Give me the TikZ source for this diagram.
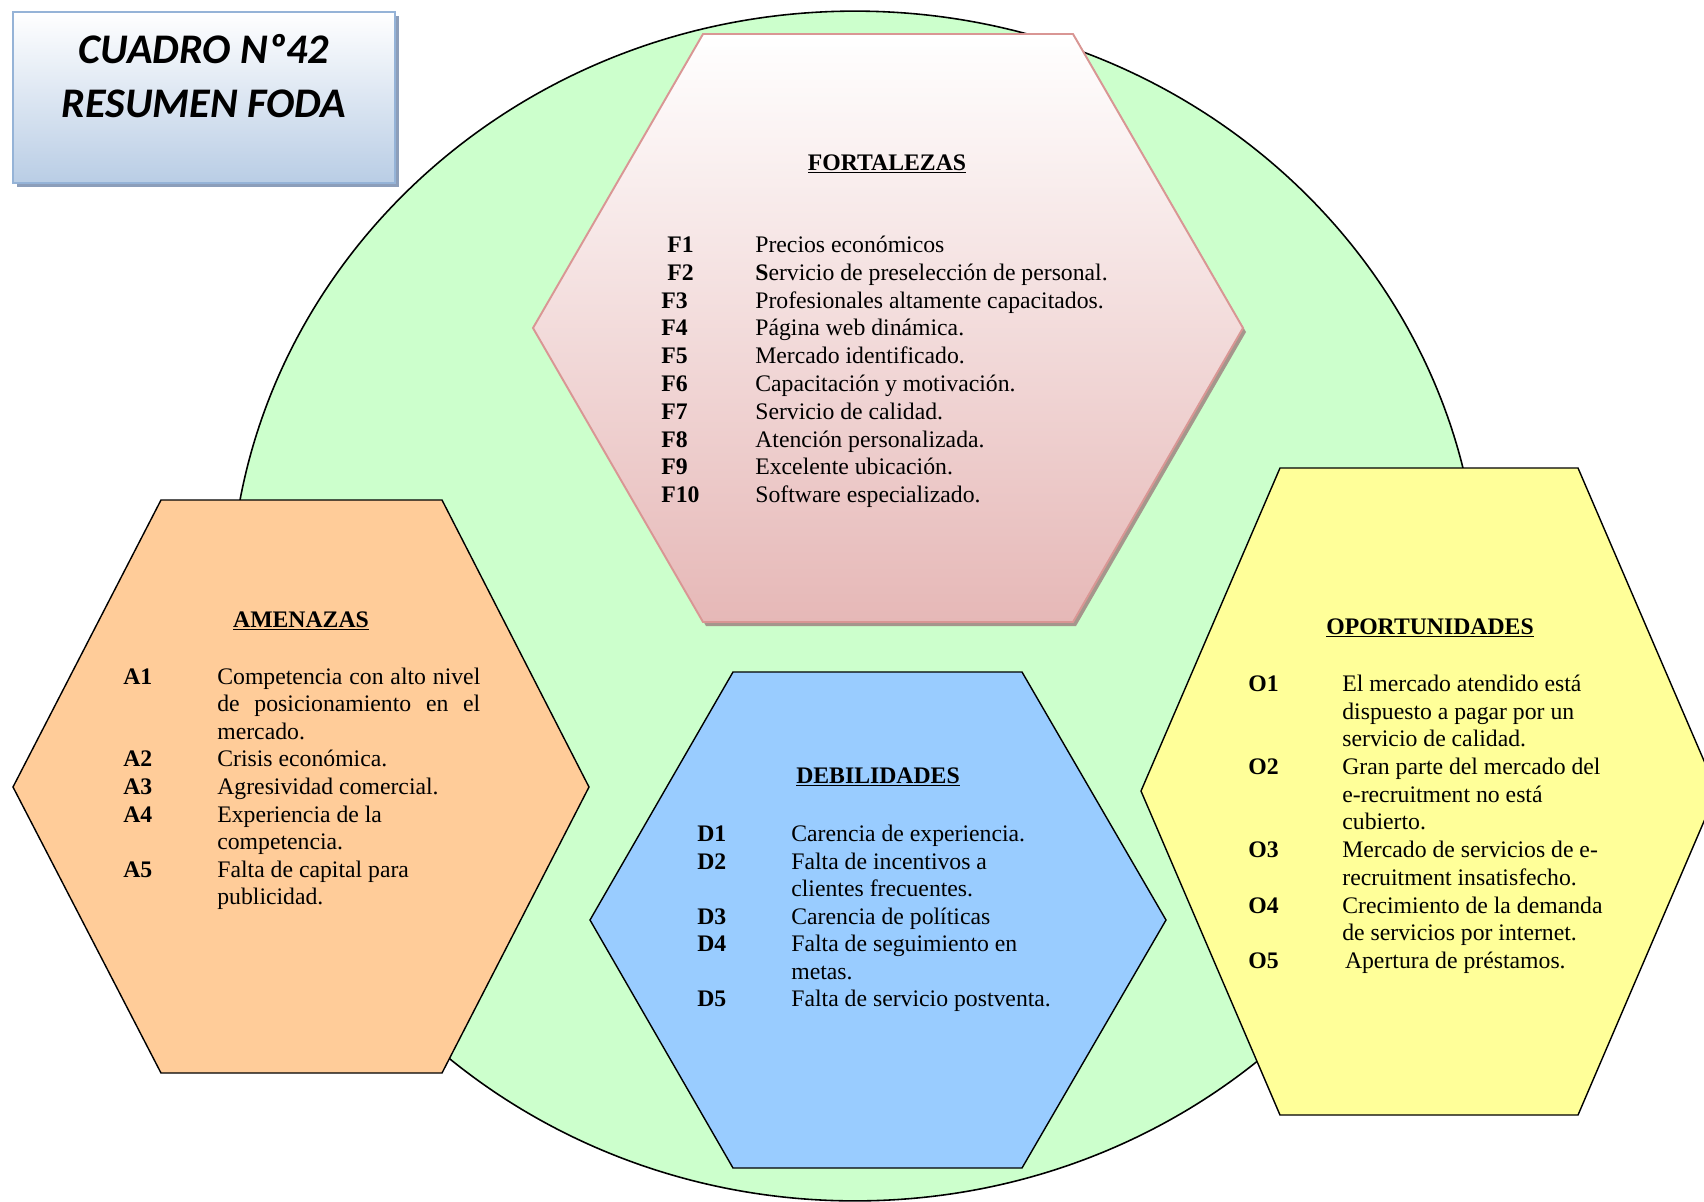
\documentclass[tikz,border=0pt]{standalone}
\usepackage{fontspec}
\setmainfont{Liberation Serif}
\newfontfamily\calibri{Carlito}
\usepackage{tikz}
\definecolor{verdeFondo}{RGB}{204,255,204}
\definecolor{rosaFort}{RGB}{230,184,183}
\definecolor{bordeFort}{RGB}{217,150,148}
\definecolor{sombraFort}{RGB}{165,150,140}
\definecolor{naranjaAm}{RGB}{255,204,153}
\definecolor{azulDeb}{RGB}{153,204,255}
\definecolor{amarilloOp}{RGB}{255,255,153}
\definecolor{azulTitulo}{RGB}{185,205,229}
\definecolor{bordeTitulo}{RGB}{149,179,215}
\definecolor{sombraTitulo}{RGB}{140,158,186}

\begin{document}
\begin{tikzpicture}[x=0.02cm,y=-0.02cm,
  font=\fontsize{13.5}{15.7}\selectfont,
  hexa/.style={draw=black,line width=0.8pt},
  titulo/.style={anchor=base,inner sep=0pt,font=\fontsize{13.5}{15.7}\selectfont\bfseries},
  etiqueta/.style={anchor=base west,inner sep=0pt,font=\fontsize{13.5}{15.7}\selectfont\bfseries},
  texto/.style={anchor=base west,inner sep=0pt}]
  \useasboundingbox (0,0) rectangle (1704,1201);

  % Circulo de fondo
  \draw[fill=verdeFondo,line width=0.9pt] (855,606) ellipse [x radius=12.5cm,y radius=11.9cm];

  % Cuadro del titulo
  \fill[sombraTitulo] (17,16) rectangle (399,187);
  \draw[draw=bordeTitulo,line width=1.5pt,top color=white,bottom color=azulTitulo]
    (13,12) rectangle (395,183);
  \node[font=\calibri\bfseries\itshape\fontsize{24}{31}\selectfont,align=center]
    (cuadro) at (204,76) {CUADRO Nº42\\RESUMEN FODA};

  % Fortalezas
  \fill[sombraFort] (706,38) -- (1076,38) -- (1246,332) -- (1076,626) -- (706,626) -- (536,332) -- cycle;
  \draw[draw=bordeFort,line width=1.1pt,top color=white,bottom color=rosaFort]
    (703,34) -- (1073,34) -- (1243,328) -- (1073,622) -- (703,622) -- (533,328) -- cycle;
  \node[titulo] (fortalezas) at (887,170) {\underline{FORTALEZAS}};
  \foreach \k/\txt in {1/{Precios económicos},2/{\textbf{S}ervicio de preselección de personal.},
                       3/{Profesionales altamente capacitados.},4/{Página web dinámica.},
                       5/{Mercado identificado.},6/{Capacitación y motivación.},
                       7/{Servicio de calidad.},8/{Atención personalizada.},
                       9/{Excelente ubicación.},10/{Software especializado.}} {
    \node[etiqueta] (f\k) at ({\k<3 ? 667 : 661},{252.5+27.8*(\k-1)}) {F\k};
    \node[texto] (tf\k) at (755,{252.5+27.8*(\k-1)}) {\txt};
  }

  % Amenazas
  \draw[hexa,fill=naranjaAm] (161,500) -- (442,500) -- (589,787) -- (442,1073) -- (161,1073) -- (13,787) -- cycle;
  \node[titulo] (amenazas) at (301,627) {\underline{AMENAZAS}};
  \foreach \k/\lin/\txt in {1/0/{\makebox[5.26cm][s]{Competencia con alto nivel}\\
                                 \makebox[5.26cm][s]{de posicionamiento en el}\\mercado.},
                            2/3/{Crisis económica.},3/4/{Agresividad comercial.},
                            4/5/{Experiencia de la\\competencia.},
                            5/7/{Falta de capital para\\publicidad.}} {
    \node[etiqueta] (a\k) at (123,{684+27.6*\lin}) {A\k};
    \node[texto] (ta\k) at (217,{684+27.6*\lin}) {\parbox[t]{8cm}{\txt}};
  }

  % Debilidades
  \draw[hexa,fill=azulDeb] (733,672) -- (1022,672) -- (1166,920) -- (1022,1168) -- (733,1168) -- (590,920) -- cycle;
  \node[titulo] (debilidades) at (878,783) {\underline{DEBILIDADES}};
  \foreach \k/\lin/\txt in {1/0/{Carencia de experiencia.},
                            2/1/{Falta de incentivos a\\clientes frecuentes.},
                            3/3/{Carencia de políticas},
                            4/4/{Falta de seguimiento en\\metas.},
                            5/6/{Falta de servicio postventa.}} {
    \node[etiqueta] (d\k) at (697,{841.5+27.5*\lin}) {D\k};
    \node[texto] (td\k) at (791,{841.5+27.5*\lin}) {\parbox[t]{8cm}{\txt}};
  }

  % Oportunidades
  \draw[hexa,fill=amarilloOp] (1280,468) -- (1578,468) -- (1717,791) -- (1578,1115) -- (1280,1115) -- (1141,791) -- cycle;
  \node[titulo] (oportunidades) at (1430,634) {\underline{OPORTUNIDADES}};
  \foreach \k/\lin/\txt in {1/0/{El mercado atendido está\\dispuesto a pagar por un\\servicio de calidad.},
                            2/3/{Gran parte del mercado del\\e-recruitment no está\\cubierto.},
                            3/6/{Mercado de servicios de e-\\recruitment insatisfecho.},
                            4/8/{Crecimiento de la demanda\\de servicios por internet.},
                            5/10/{\hspace{1.5pt}Apertura de préstamos.}} {
    \node[etiqueta] (o\k) at (1248,{691.5+27.7*\lin}) {O\k};
    \node[texto] (to\k) at (1342,{691.5+27.7*\lin}) {\parbox[t]{8cm}{\txt}};
  }
\end{tikzpicture}
\end{document}
